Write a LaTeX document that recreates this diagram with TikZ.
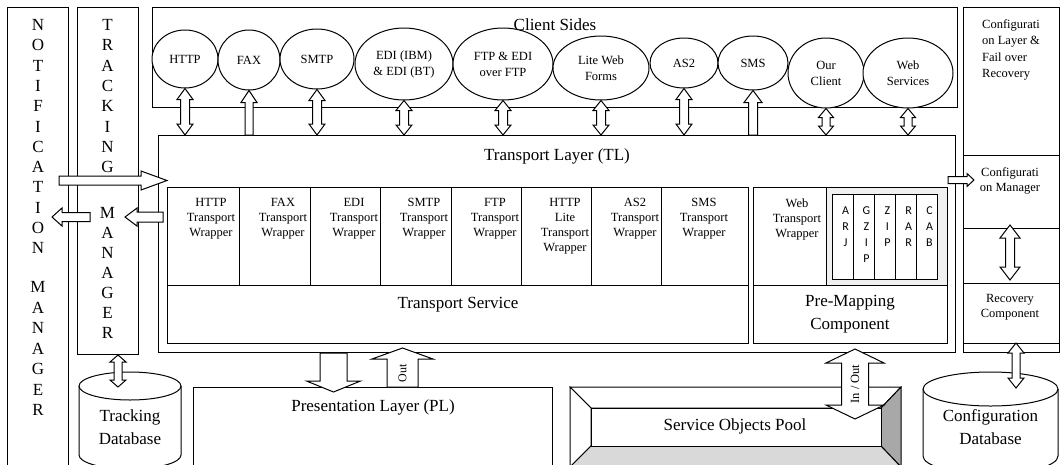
\documentclass[tikz,border=0pt]{standalone}
\usepackage{fontspec}
\setmainfont{Liberation Serif}
\newfontfamily\archfont{Carlito}
\usetikzlibrary{shapes.geometric,calc}

\tikzset{
  ln/.style={line width=1pt, draw=black, line join=miter},
  box/.style={ln, fill=white, rectangle, inner sep=0pt, anchor=north west},
  oval/.style={ln, fill=white, ellipse, inner sep=0pt, align=center,
    font=\fontsize{12.5}{16}\selectfont},
  big/.style={font=\fontsize{17}{23.5}\selectfont, inner sep=0pt, align=center},
  sm/.style={font=\fontsize{12.5}{15}\selectfont, inner sep=0pt, align=center},
  letter/.style={font=\fontsize{17}{20}\selectfont, inner sep=0pt},
  arch/.style={font=\archfont\fontsize{12}{15.8}\selectfont, inner sep=0pt, align=center, anchor=north},
  barrow/.style={ln, fill=white},
}

% rectangle node from its two corners: [options]{name}{x1}{y1}{x2}{y2}
\newcommand\boxat[6][]{\node[box,minimum width={#5-#3},minimum height={#6-#4},#1] (#2) at (#3,#4) {};}

% block arrows: #1 first point, #2 second point, #3 shaft half width, #4 head half width, #5 head length
\newcommand\dblV[5]{\draw[barrow] let \p1=#1, \p2=#2 in
  (\x1,\y1) -- (\x1+#4,\y1-#5) -- (\x1+#3,\y1-#5) -- (\x1+#3,\y2+#5) -- (\x1+#4,\y2+#5) -- (\x1,\y2)
  -- (\x1-#4,\y2+#5) -- (\x1-#3,\y2+#5) -- (\x1-#3,\y1-#5) -- (\x1-#4,\y1-#5) -- cycle;}
\newcommand\upA[5]{\draw[barrow] let \p1=#1, \p2=#2 in
  (\x1,\y1) -- (\x1+#4,\y1-#5) -- (\x1+#3,\y1-#5) -- (\x1+#3,\y2) -- (\x1-#3,\y2)
  -- (\x1-#3,\y1-#5) -- (\x1-#4,\y1-#5) -- cycle;}
\newcommand\downA[5]{\draw[barrow] let \p1=#1, \p2=#2 in
  (\x1+#3,\y1) -- (\x1+#3,\y2+#5) -- (\x1+#4,\y2+#5) -- (\x1,\y2) -- (\x1-#4,\y2+#5)
  -- (\x1-#3,\y2+#5) -- (\x1-#3,\y1) -- cycle;}
\newcommand\rightA[5]{\draw[barrow] let \p1=#1, \p2=#2 in
  (\x1,\y2+#3) -- (\x2-#5,\y2+#3) -- (\x2-#5,\y2+#4) -- (\x2,\y2) -- (\x2-#5,\y2-#4)
  -- (\x2-#5,\y2-#3) -- (\x1,\y2-#3) -- cycle;}
\newcommand\leftA[5]{\draw[barrow] let \p1=#1, \p2=#2 in
  (\x1,\y2+#3) -- (\x2+#5,\y2+#3) -- (\x2+#5,\y2+#4) -- (\x2,\y2) -- (\x2+#5,\y2-#4)
  -- (\x2+#5,\y2-#3) -- (\x1,\y2-#3) -- cycle;}

\begin{document}
\begin{tikzpicture}[x=1pt,y=-1pt]
\clip (0,0) rectangle (1060,464);
\fill[white] (0,0) rectangle (1060,464);

% ---------- managers on the left ----------
\boxat{notif}{7}{7}{68}{472}
\boxat{trk}{77}{7}{138}{354}
\foreach \ch [count=\i] in {N,O,T,I,F,I,C,A,T,I,O,N}
  \node[letter] (nl\i) at (38,{25+(\i-1)*20.3}) {\ch};
\foreach \ch [count=\i] in {M,A,N,A,G,E,R}
  \node[letter] (nm\i) at (38,{287+(\i-1)*20.5}) {\ch};
\foreach \ch [count=\i] in {T,R,A,C,K,I,N,G}
  \node[letter] (tl\i) at (107.5,{25+(\i-1)*20.3}) {\ch};
\foreach \ch [count=\i] in {M,A,N,A,G,E,R}
  \node[letter] (tm\i) at (107.5,{213+(\i-1)*20}) {\ch};

% ---------- client sides ----------
\boxat{client}{152}{7}{957}{107}
\node[big] (clientT) at (555,25) {Client Sides};
\node[oval, minimum width=66, minimum height=58] (http) at (185,59) {HTTP};
\node[oval, minimum width=62, minimum height=60] (fax)  at (249,60) {FAX};
\node[oval, minimum width=74, minimum height=60] (smtp) at (317,59) {SMTP};
\node[oval, minimum width=98, minimum height=72] (edi)  at (404,64) {EDI (IBM)\\\& EDI (BT)};
\node[oval, minimum width=100, minimum height=72] (ftp) at (503,64) {FTP \& EDI\\over FTP};
\node[oval, minimum width=96, minimum height=64] (lite) at (601,68) {Lite Web\\Forms};
\node[oval, minimum width=68, minimum height=50] (as2)  at (684,63) {AS2};
\node[oval, minimum width=70, minimum height=54] (sms)  at (753,63) {SMS};
\node[oval, minimum width=76, minimum height=70] (ourc) at (826,73) {Our\\Client};
\node[oval, minimum width=90, minimum height=70] (webs) at (908,73) {Web\\Services};

% ---------- transport layer ----------
\boxat{tl}{158}{135}{955}{352}
\node[big] (tlT) at (557,156) {Transport Layer (TL)};
\boxat{w1}{167}{187}{239}{285}
\boxat{w2}{239}{187}{310}{285}
\boxat{w3}{310}{187}{380}{285}
\boxat{w4}{380}{187}{451}{285}
\boxat{w5}{451}{187}{521}{285}
\boxat{w6}{521}{187}{591}{285}
\boxat{w7}{591}{187}{661}{285}
\boxat{w8}{661}{187}{748}{285}
\boxat{tsv}{167}{285}{748}{343}
\node[sm, anchor=north] (w1T) at (211,198.5) {HTTP\\Transport\\Wrapper};
\node[sm, anchor=north] (w2T) at (283,198.5) {FAX\\Transport\\Wrapper};
\node[sm, anchor=north] (w3T) at (354,198.5) {EDI\\Transport\\Wrapper};
\node[sm, anchor=north] (w4T) at (424,198.5) {SMTP\\Transport\\Wrapper};
\node[sm, anchor=north] (w5T) at (495,198.5) {FTP\\Transport\\Wrapper};
\node[sm, anchor=north] (w6T) at (565,198.5) {HTTP\\Lite\\Transport\\Wrapper};
\node[sm, anchor=north] (w7T) at (635,198.5) {AS2\\Transport\\Wrapper};
\node[sm, anchor=north] (w8T) at (704,198.5) {SMS\\Transport\\Wrapper};
\node[big] (tsvT) at (458,305) {Transport Service};

% pre-mapping component
\boxat{wweb}{753}{187}{826}{285}
\boxat[fill=black!6]{zipArea}{826}{187}{947}{285}
\boxat{pmc}{753}{285}{947}{343}
\node[sm, anchor=north] (wwebT) at (797,198.5) {Web\\Transport\\Wrapper};
\node[big] (pmcT) at (850,314) {Pre-Mapping\\Component};
\boxat{arj}{832}{194}{853}{279}
\boxat{gzip}{853}{194}{874}{279}
\boxat{zip}{874}{194}{895}{279}
\boxat{rar}{895}{194}{916}{279}
\boxat{cab}{916}{194}{937}{279}
\node[arch] (arjT)  at (845.5,207) {A\\R\\J};
\node[arch] (gzipT) at (866.5,207) {G\\Z\\I\\P};
\node[arch] (zipT)  at (887.5,207) {Z\\I\\P};
\node[arch] (rarT)  at (908.5,207) {R\\A\\R};
\node[arch] (cabT)  at (929.5,207) {C\\A\\B};

% ---------- configuration and fail over ----------
\boxat{cfg}{963}{7}{1059}{352}
\boxat{cfgm}{963}{155}{1059}{228}
\boxat{rec}{963}{283}{1059}{343}
\node[font=\fontsize{12.5}{16.3}\selectfont, inner sep=0pt, align=left, anchor=north west]
  (cfgT) at (982,19.5) {Configurati\\on Layer \&\\Fail over\\Recovery};
\node[sm] (cfgmT) at (1010,180.5) {Configurati\\on Manager};
\node[sm] (recT) at (1010,307.5) {Recovery\\Component};

% ---------- databases ----------
\draw[ln, fill=white] (79,386) -- (79,455) arc[start angle=180, end angle=360, x radius=51pt, y radius=14pt]
  -- (181,386) arc[start angle=0, end angle=180, x radius=51pt, y radius=14pt] -- cycle;
\draw[ln] (79,386) arc[start angle=180, end angle=360, x radius=51pt, y radius=14pt];
\node[big] (tdb) at (130,427) {Tracking\\Database};

\draw[ln, fill=white] (923,389) -- (923,456) arc[start angle=180, end angle=360, x radius=67.5pt, y radius=18pt]
  -- (1058,389) arc[start angle=0, end angle=180, x radius=67.5pt, y radius=17pt] -- cycle;
\draw[ln] (923,389) arc[start angle=180, end angle=360, x radius=67.5pt, y radius=17pt];
\node[big] (cdb) at (990.5,427) {Configuration\\Database};

% ---------- presentation layer ----------
\boxat{pl}{193}{387}{552}{472}
\node[big] (plT) at (373,407) {Presentation Layer (PL)};

% ---------- service objects pool (bevelled panel) ----------
\draw[ln, fill=white] (570,387) -- (901,387) -- (881,408) -- (591,408) -- cycle;
\draw[ln, fill=white] (570,387) -- (591,408) -- (591,446) -- (570,467) -- cycle;
\draw[ln, fill=black!34] (901,387) -- (881,408) -- (881,446) -- (901,467) -- cycle;
\draw[ln, fill=black!15] (591,446) -- (881,446) -- (901,467) -- (570,467) -- cycle;
\boxat{sop}{591}{408}{881}{446}
\node[big] (sopT) at (735,426) {Service Objects Pool};

% ---------- arrows ----------
% client sides <-> transport layer
\dblV{(http.south)}{(http.south |- tl.north)}{4.5pt}{8pt}{11pt}
\upA{(fax.south)}{(fax.south |- tl.north)}{4pt}{8pt}{12pt}
\dblV{(smtp.south)}{(smtp.south |- tl.north)}{4.5pt}{8pt}{11pt}
\dblV{(edi.south)}{(edi.south |- tl.north)}{4.5pt}{8pt}{10pt}
\dblV{(ftp.south)}{(ftp.south |- tl.north)}{4.5pt}{8pt}{10pt}
\dblV{(lite.south)}{(lite.south |- tl.north)}{4.5pt}{8pt}{10pt}
\dblV{(as2.south)}{(as2.south |- tl.north)}{4.5pt}{8pt}{11pt}
\upA{(sms.south)}{(sms.south |- tl.north)}{4.5pt}{9pt}{12pt}
\dblV{(ourc.south)}{(ourc.south |- tl.north)}{4pt}{7.5pt}{9pt}
\dblV{(webs.south)}{(webs.south |- tl.north)}{4pt}{7.5pt}{9pt}

% managers
\coordinate (inTail) at (59,180.5);
\rightA{(inTail)}{(inTail -| w1.west)}{4.5pt}{9.5pt}{26pt}
\coordinate (nTail) at (90,217);
\coordinate (nTip) at (52,217);
\leftA{(nTail)}{(nTip)}{4.5pt}{9pt}{10pt}
\coordinate (tTail) at (163,217);
\coordinate (tTip) at (125,217);
\leftA{(tTail)}{(tTip)}{5pt}{9pt}{12pt}
\coordinate (tdbTop) at (118,387);
\dblV{(trk.south -| tdbTop)}{(tdbTop)}{4pt}{8pt}{7pt}

% configuration side
\coordinate (cTail) at (948,180);
\coordinate (cTip) at (974,180);
\rightA{(cTail)}{(cTip)}{3.5pt}{6.5pt}{7pt}
\coordinate (cfgmBot) at (1010,225);
\coordinate (recTop) at (1010,280);
\dblV{(cfgmBot)}{(recTop)}{4.5pt}{10pt}{13pt}
\coordinate (recBot) at (1016,343);
\coordinate (cdbTop) at (1016,388);
\dblV{(recBot)}{(cdbTop)}{4pt}{8pt}{10pt}

% transport layer <-> presentation layer and pool
\coordinate (plIn) at (333.5,392);
\downA{(plIn |- tl.south)}{(plIn)}{13.5pt}{27pt}{11pt}
\coordinate (plOut) at (402.5,348);
\upA{(plOut)}{(plOut |- pl.north)}{15.5pt}{30.5pt}{11pt}
\node[font=\fontsize{12}{14}\selectfont, inner sep=0pt, rotate=90] (outT) at (402.5,373) {Out};
\coordinate (poolTop) at (855,349);
\coordinate (poolBot) at (855,419);
\dblV{(poolTop)}{(poolBot)}{13.5pt}{29pt}{14pt}
\node[font=\fontsize{12.5}{14}\selectfont, inner sep=0pt, rotate=90] (ioT) at (855,384) {In / Out};
\end{tikzpicture}
\end{document}
